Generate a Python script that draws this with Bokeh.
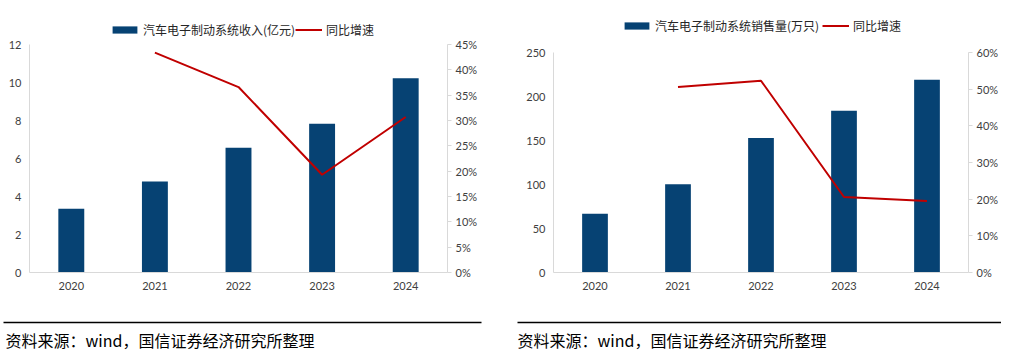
from bokeh.plotting import figure
from bokeh.models import (Range1d, FactorRange, LinearAxis, Legend, LegendItem,
                          NumeralTickFormatter, FixedTicker)
from bokeh.layouts import column, row
from bokeh.core.properties import value
from bokeh.embed import file_html
from bokeh.resources import INLINE

years = ["2020", "2021", "2022", "2023", "2024"]
revenue = [3.35, 4.79, 6.56, 7.83, 10.23]          # 亿元
revenue_growth_years = ["2021", "2022", "2023", "2024"]
revenue_growth = [0.434, 0.366, 0.193, 0.307]
sales = [66.7, 100.4, 152.7, 183.7, 219.0]          # 万只
sales_growth_years = ["2021", "2022", "2023", "2024"]
sales_growth = [0.506, 0.523, 0.206, 0.195]

bar_label_1 = "汽车电子制动系统收入(亿元)"
bar_label_2 = "汽车电子制动系统销售量(万只)"
line_label = "同比增速"
source_text = "资料来源：wind，国信证券经济研究所整理"

BAR = "#064273"
RED = "#C00000"
AX = "#D9D9D9"
TXT = "#404040"
NUM_FONT = "Lato"
CJK = "Noto Sans CJK SC"


def style_axis(ax, size="11px"):
    ax.axis_line_color = AX
    ax.major_tick_line_color = None
    ax.minor_tick_line_color = None
    ax.major_tick_out = 0
    ax.major_tick_in = 0
    ax.minor_tick_out = 0
    ax.minor_tick_in = 0
    ax.major_label_text_font = NUM_FONT
    ax.major_label_text_font_size = size
    ax.major_label_text_color = TXT


def make_chart(width, height, mb, frame_h, axis_h, bars, y_max, y_ticks,
               growth_years, growth, r_max, r_ticks, bar_label,
               leg1_x, leg2_x, leg_y):
    k = frame_h / axis_h     # frame is taller than the axis span (room for legend)
    p = figure(x_range=FactorRange(*years, range_padding=0),
               y_range=Range1d(0, y_max * k),
               width=width, height=height, sizing_mode="fixed",
               output_backend="svg", toolbar_location=None,
               min_border_left=mb[0], min_border_right=mb[1],
               min_border_top=mb[2], min_border_bottom=mb[3])
    p.outline_line_color = None
    p.xgrid.visible = False
    p.ygrid.visible = False
    p.background_fill_color = "white"
    p.border_fill_color = "white"

    p.extra_y_ranges = {"pct": Range1d(0, r_max * k)}

    vb = p.vbar(x=years, top=bars, width=0.31, fill_color=BAR, line_color=None)
    ln = p.line(x=growth_years, y=growth, y_range_name="pct",
                line_color=RED, line_width=2)

    ya = p.yaxis[0]
    style_axis(ya)
    ya.ticker = FixedTicker(ticks=y_ticks)
    ya.bounds = (0, y_max)
    ya.major_label_standoff = 8
    xa = p.xaxis[0]
    style_axis(xa)
    xa.major_label_standoff = 9
    ra = LinearAxis(y_range_name="pct")
    style_axis(ra)
    ra.ticker = FixedTicker(ticks=r_ticks)
    ra.bounds = (0, r_max)
    ra.formatter = NumeralTickFormatter(format="0%")
    ra.major_tick_line_color = AX
    ra.major_tick_out = 4
    ra.major_label_standoff = 4
    p.add_layout(ra, "right")

    common = dict(orientation="horizontal", glyph_height=9, label_height=14,
                  padding=0, margin=0, spacing=0, border_line_color=None,
                  background_fill_alpha=0, label_text_font=CJK,
                  label_text_font_size="12px", label_text_color="#262626")
    leg1 = Legend(items=[LegendItem(label=bar_label, renderers=[vb])],
                  location=(leg1_x, leg_y), glyph_width=31, label_standoff=3,
                  **common)
    leg2 = Legend(items=[LegendItem(label=line_label, renderers=[ln])],
                  location=(leg2_x, leg_y), glyph_width=27, label_standoff=4,
                  **common)
    p.add_layout(leg1, "center")
    p.add_layout(leg2, "center")
    return p


H = 300
p1 = make_chart(500, H, (29, 53, 16, 28), 256, 228, revenue, 12,
                [0, 2, 4, 6, 8, 10, 12],
                revenue_growth_years, revenue_growth, 0.45,
                [0, 0.05, 0.10, 0.15, 0.20, 0.25, 0.30, 0.35, 0.40, 0.45],
                bar_label_1, 80, 266, 234.3)
p2 = make_chart(501, H, (53, 32, 16, 28), 256, 220, sales, 250,
                [0, 50, 100, 150, 200, 250],
                sales_growth_years, sales_growth, 0.60,
                [0, 0.1, 0.2, 0.3, 0.4, 0.5, 0.6],
                bar_label_2, 68, 269, 238.3)

# footer
FW, FH = 1001, 55
f = figure(width=FW, height=FH, x_range=Range1d(0, FW), y_range=Range1d(FH, 0),
           output_backend="svg", toolbar_location=None, sizing_mode="fixed",
           min_border=0, min_border_left=0, min_border_right=0,
           min_border_top=0, min_border_bottom=0)
f.axis.visible = False
f.grid.visible = False
f.outline_line_color = None
f.segment(x0=[3, 517], y0=[22, 22], x1=[481, 1006], y1=[22, 22],
          line_color="#000000", line_width=1.5)
f.text(x=[5, 517], y=[39.5, 39.5], text=[source_text, source_text],
       text_font=value(CJK), text_font_size="16px", text_color="#000000",
       text_baseline="middle", text_align="left")

layout = column(row(p1, p2, spacing=0, sizing_mode="fixed"), f,
                spacing=0, sizing_mode="fixed")
open("out.html", "w").write(file_html(layout, INLINE))
